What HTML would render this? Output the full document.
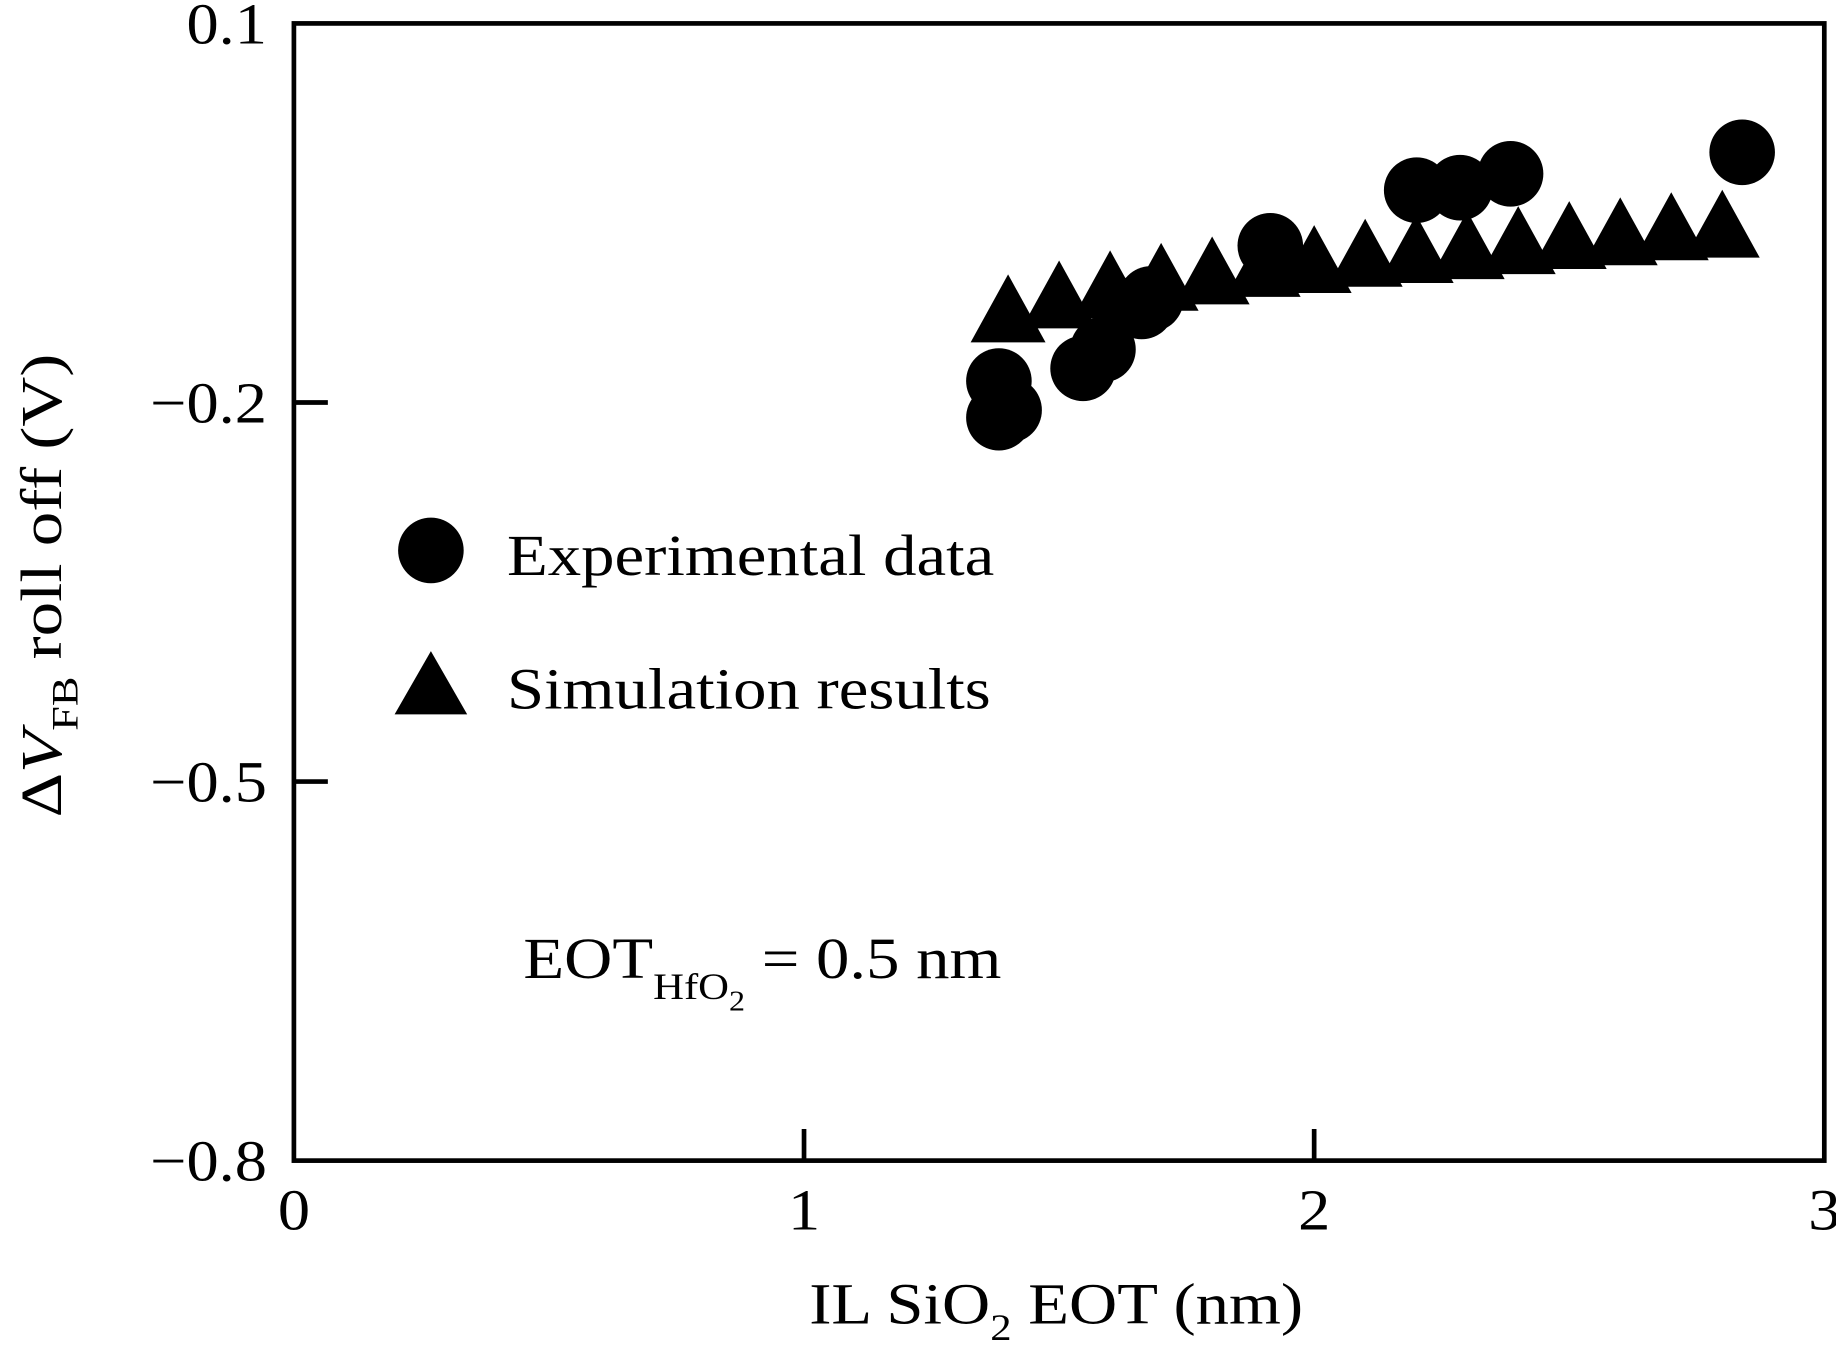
<!DOCTYPE html>
<html><head><meta charset="utf-8"><style>
html,body{margin:0;padding:0;background:#fff;}
svg{display:block;font-family:"Liberation Serif",serif;}
</style></head><body>
<svg id="chart" width="1836" height="1348" viewBox="0 0 1568 1151" preserveAspectRatio="none" xmlns="http://www.w3.org/2000/svg">
<rect x="251" y="20" width="1307" height="971" fill="none" stroke="#000" stroke-width="4"/>
<g id="axes"></g>
<g id="marks"></g>
<g>
<circle cx="368" cy="470" r="28" fill="#000"/>
<text transform="translate(433,491) scale(1.14,1)" font-size="50">Experimental data</text>
<polygon points="368,556 337,610 399,610" fill="#000"/>
<text transform="translate(433,605) scale(1.14,1)" font-size="50">Simulation results</text>
</g>
<text transform="translate(447,835) scale(1.14,1)" font-size="50">EOT<tspan font-size="32" dy="18">HfO</tspan><tspan font-size="24" dy="10">2</tspan><tspan dy="-28"> = 0.5 nm</tspan></text>
<text transform="translate(902,1130) scale(1.14,1)" font-size="50" text-anchor="middle">IL SiO<tspan font-size="32" dy="14">2</tspan><tspan dy="-14"> EOT (nm)</tspan></text>
<text transform="translate(52,500) rotate(-90) scale(1.18,1)" font-size="50" text-anchor="middle">Δ<tspan font-style="italic">V</tspan><tspan font-size="32" dy="14">FB</tspan><tspan dy="-14"> roll off (V)</tspan></text>
</svg>
<script>
const xTicks=[0,1,2,3];
const xTickLabels=["0","1","2","3"];
const yTicks=[0.1,-0.2,-0.5,-0.8];
const yTickLabels=["0.1","\u22120.2","\u22120.5","\u22120.8"];
const expX=[1.382,1.382,1.402,1.547,1.586,1.662,1.680,1.914,2.201,2.286,2.385,2.839];
const expY=[-0.183,-0.212,-0.206,-0.173,-0.158,-0.124,-0.118,-0.076,-0.032,-0.030,-0.019,-0.002];
const simX=[1.4,1.5,1.6,1.7,1.8,1.9,2.0,2.1,2.2,2.3,2.4,2.5,2.6,2.7,2.8];
const simY=[-0.132,-0.121,-0.113,-0.107,-0.102,-0.096,-0.093,-0.088,-0.085,-0.082,-0.078,-0.074,-0.071,-0.067,-0.065];
const NS="http://www.w3.org/2000/svg";
function sx(v){return 251+(v-0)/3*1307;}
function sy(v){return 20+(0.1-v)/0.9*971;}
const axes=document.getElementById('axes'), marks=document.getElementById('marks');
function mk(tag,attrs,parent){const e=document.createElementNS(NS,tag);for(const k in attrs)e.setAttribute(k,attrs[k]);parent.appendChild(e);return e;}
xTicks.forEach((t,i)=>{
  if(i>0&&i<xTicks.length-1){const l=mk('line',{x1:sx(t),x2:sx(t),y1:991,y2:964,stroke:'#000','stroke-width':4},axes);
  
  }
  const tx=mk('text',{transform:`translate(${sx(t)},1050) scale(1.1,1)`,'font-size':50,'text-anchor':'middle'},axes);
  tx.textContent=xTickLabels[i];
  
  
});
yTicks.forEach((t,i)=>{
  if(i>0&&i<yTicks.length-1){const l=mk('line',{x1:251,x2:280,y1:sy(t),y2:sy(t),stroke:'#000','stroke-width':4},axes);
  
  }
  const tx=mk('text',{transform:`translate(228,${sy(t)+17}) scale(1.1,1)`,'font-size':50,'text-anchor':'end'},axes);
  tx.textContent=yTickLabels[i];
  
  
});
simX.forEach((v,i)=>{
  const cx=sx(v), cy=sy(simY[i]);
  const p=mk('polygon',{points:`${cx},${cy-36} ${cx-32},${cy+22} ${cx+32},${cy+22}`,fill:'#000'},marks);
  
  
});
expX.forEach((v,i)=>{
  const c=mk('circle',{cx:sx(v),cy:sy(expY[i]),r:28,fill:'#000'},marks);
  
  
});
</script>
</body></html>
